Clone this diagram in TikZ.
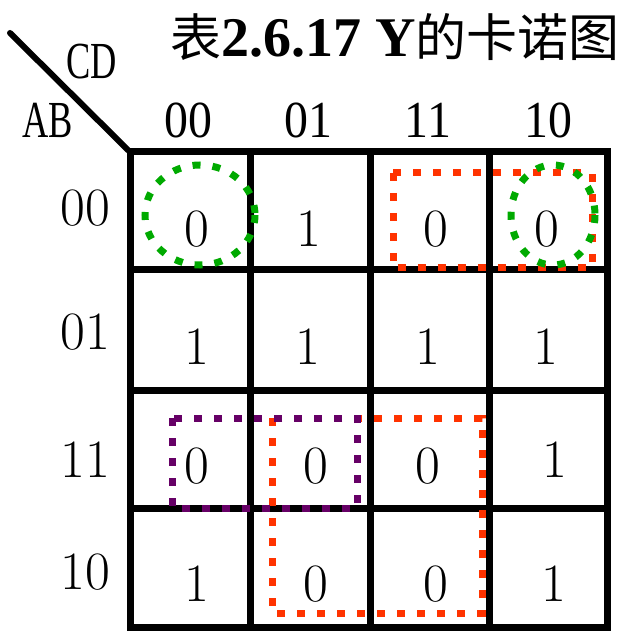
\documentclass[tikz,border=0pt]{standalone}
\usepackage{fontspec}
\usepackage{tikz}
\usetikzlibrary{positioning, calc}
\newfontfamily\cjkfont{Noto Sans CJK SC}
\newfontfamily\titlefont{Liberation Serif}
\newfontfamily\lblfont[FakeStretch=0.92]{Liberation Serif}
\newfontfamily\lblnarrow[FakeStretch=0.7]{Liberation Serif}
\definecolor{loopgreen}{RGB}{0,170,0}
\definecolor{looporange}{RGB}{255,51,0}
\definecolor{looppurple}{RGB}{102,0,102}

\begin{document}
\begin{tikzpicture}[x=0.5pt,y=-0.5pt,
			grid line/.style={line width=3.5pt,line cap=rect},
			loop line/.style={line width=3.5pt,dash pattern=on 4pt off 6pt},
			cell value/.style={inner sep=0pt,font=\fontsize{27}{30}\selectfont},
			row label/.style={inner sep=0pt,font=\fontsize{27}{30}\selectfont},
			col label/.style={inner sep=0pt,font=\lblfont\fontsize{26}{30}\selectfont},
			var label/.style={inner sep=0pt,font=\lblnarrow\fontsize{26}{30}\selectfont}]
			
			\useasboundingbox (0,0) rectangle (624,635);
			
			% title
			\node[inner sep=0pt] (title) at (395,37)
				{\cjkfont\fontsize{25.5}{30}\selectfont 表\titlefont\bfseries\fontsize{28}{30}\selectfont 2.6.17 Y\cjkfont\mdseries\fontsize{25.5}{30}\selectfont 的卡诺图};
			
			% corner
			\coordinate (corner) at (130,152);
			\coordinate (slash) at (10,33);
			\draw[line width=3pt,line cap=round] (slash) -- (corner);
			\node[var label] (CD) at (92,62) {CD};
			\node[var label] (AB) at (48,120) {AB};
			
			% column and row labels
			\node[col label] (c00) at (188,120) {00};
			\node[col label] (c01) at (308,120) {01};
			\node[col label] (c11) at (428,120) {11};
			\node[col label] (c10) at (548,120) {10};
			\node[row label] (r00) at (85,208) {00};
			\node[row label] (r01) at (85,332) {01};
			\node[row label] (r11) at (85,460) {11};
			\node[row label] (r10) at (85,572) {10};
			
			% grid
			\foreach \x in {130,250,370,489,607}
				\draw[grid line] (\x,152) -- (\x,627);
			\foreach \y in {152,270,390,508,627}
				\draw[grid line] (130,\y) -- (607,\y);
			
			% values
			\foreach \x/\y/\v/\n in {197/229/0/a0, 309/229/1/a1, 436/229/0/a2, 547/229/0/a3,
				197/347/1/b0, 308/347/1/b1, 428/347/1/b2, 546/347/1/b3,
				197/466/0/c0, 316/466/0/c1, 428/466/0/c2, 555/460/1/c3,
				197/584/1/d0, 316/584/0/d1, 436/584/0/d2, 554/584/1/d3}
				\node[cell value] (\n) at (\x,\y) {\v};
			
			% loops
			\draw[loop line,looporange] (393,173) rectangle (592,268);
			\draw[loop line,looporange] (272,418) rectangle (482,613);
			\draw[loop line,looppurple] (172,418) rectangle (357,508);
			\draw[loop line,loopgreen] (200,215) ellipse [x radius=55,y radius=50];
			\draw[loop line,loopgreen] (553,215) ellipse [x radius=42,y radius=50];
		
		\end{tikzpicture}
\end{document}
